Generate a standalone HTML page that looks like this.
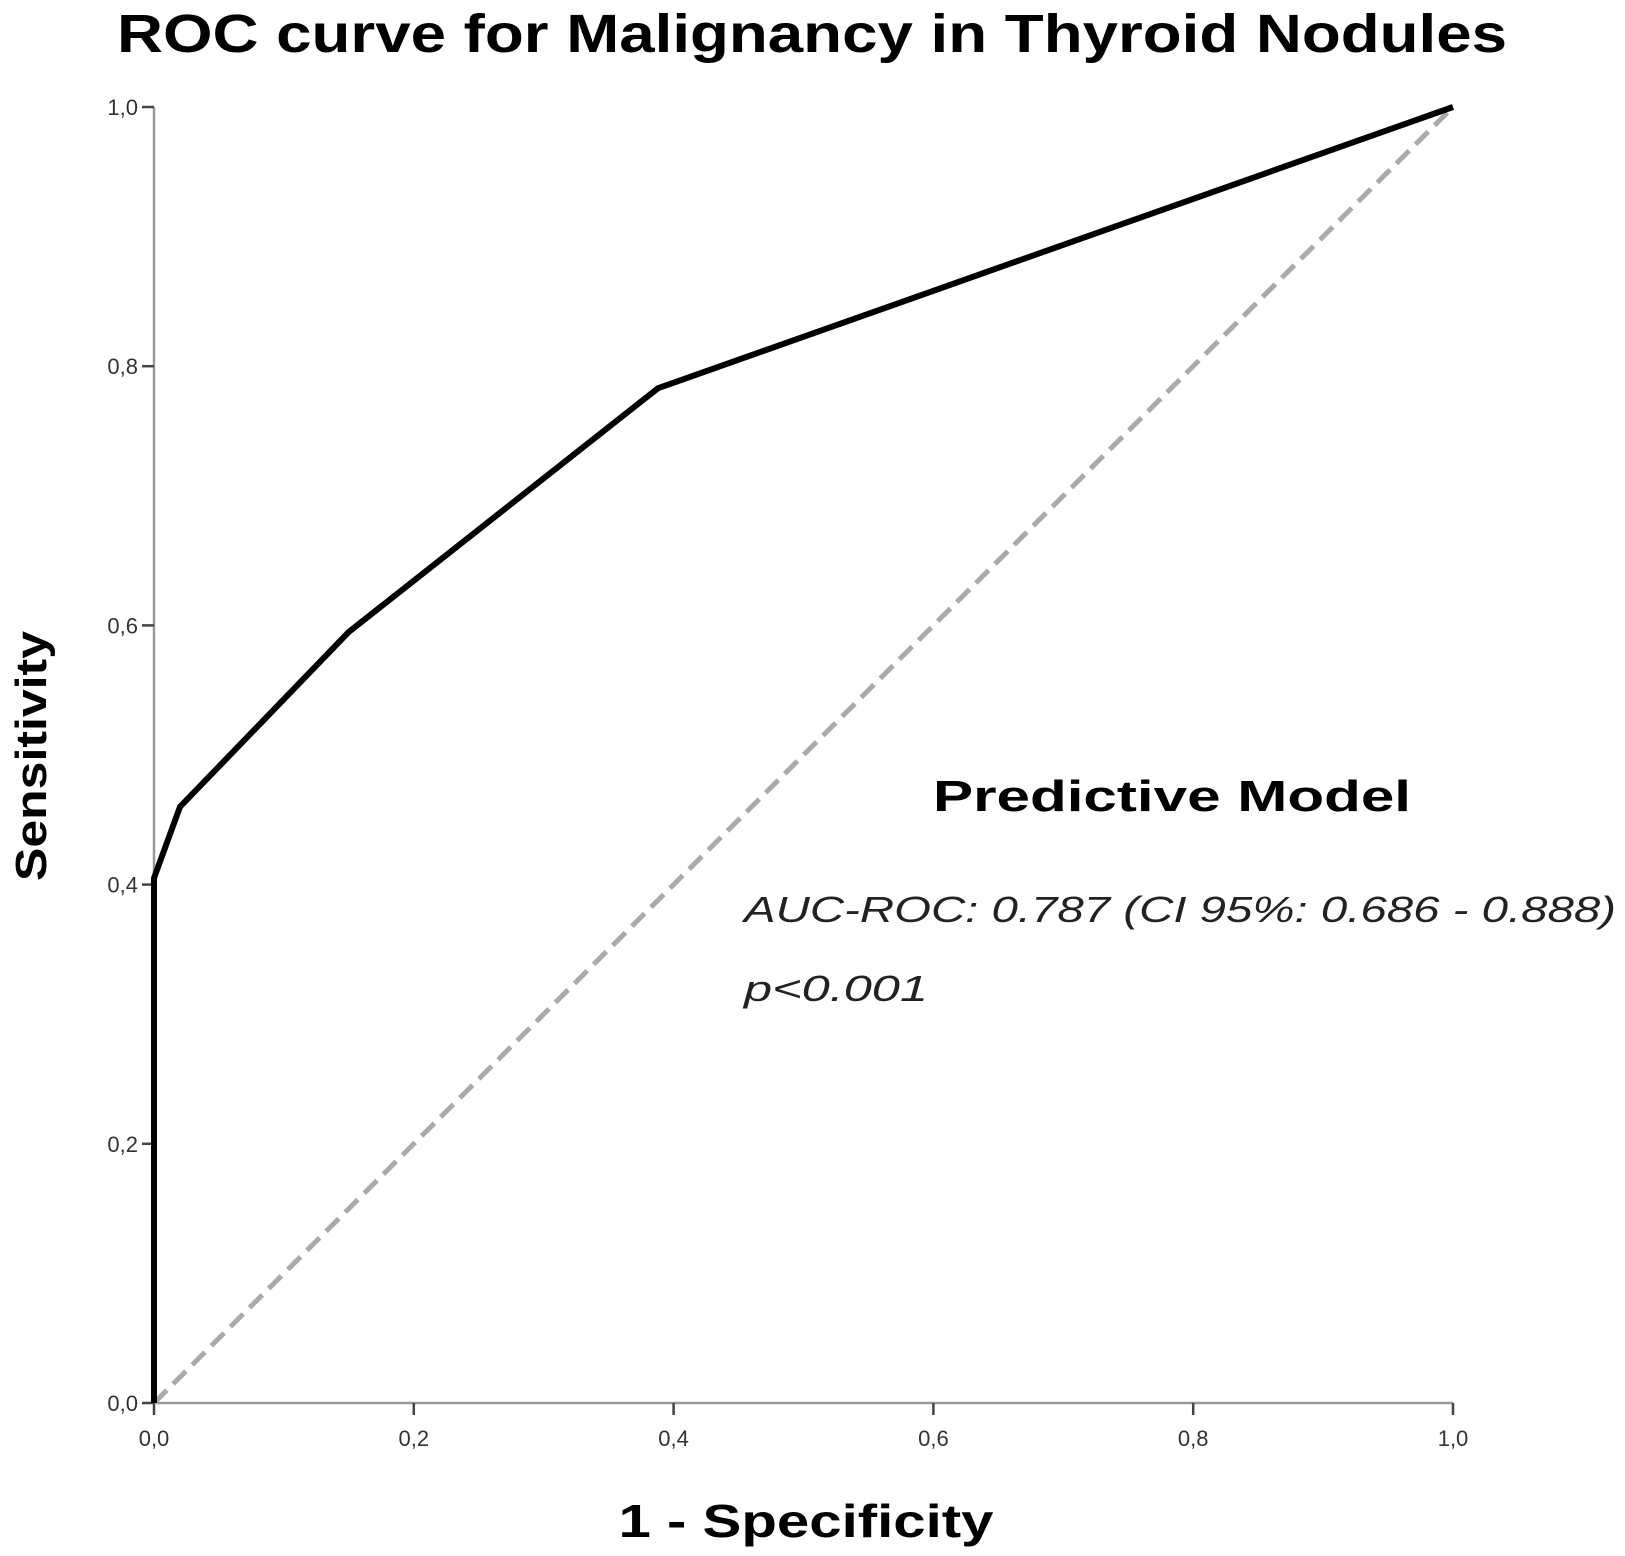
<!DOCTYPE html>
<html><head><meta charset="utf-8"><style>
html,body{margin:0;padding:0;background:#fff;}
svg{display:block;font-family:"Liberation Sans",sans-serif;}
</style></head><body>
<svg id="chart" width="1625" height="1556" viewBox="0 0 1625 1556">
<text x="812" y="52" text-anchor="middle" font-size="54" font-weight="bold" textLength="1390" lengthAdjust="spacingAndGlyphs">ROC curve for Malignancy in Thyroid Nodules</text>
<g id="axes"></g>
<g id="marks"></g>
<text x="0" y="0" transform="translate(46,756) rotate(-90)" text-anchor="middle" font-size="44" font-weight="bold" textLength="250" lengthAdjust="spacingAndGlyphs">Sensitivity</text>
<text x="806" y="1537" text-anchor="middle" font-size="46" font-weight="bold" textLength="375" lengthAdjust="spacingAndGlyphs">1 - Specificity</text>
<text x="933" y="811" font-size="44" font-weight="bold" textLength="478" lengthAdjust="spacingAndGlyphs">Predictive Model</text>
<text x="744" y="922" font-size="36" font-style="italic" fill="#222" textLength="872" lengthAdjust="spacingAndGlyphs">AUC-ROC: 0.787 (CI 95%: 0.686 - 0.888)</text>
<text x="744" y="1001" font-size="36" font-style="italic" fill="#222" textLength="184" lengthAdjust="spacingAndGlyphs">p&lt;0.001</text>
</svg>
<script>
const rocFpr = [0, 0, 0.02, 0.15, 0.388, 1.0];
const rocTpr = [0, 0.405, 0.46, 0.595, 0.783, 1.0];
const refFpr = [0, 1];
const refTpr = [0, 1];
const xTicks = [0, 0.2, 0.4, 0.6, 0.8, 1.0];
const yTicks = [0, 0.2, 0.4, 0.6, 0.8, 1.0];
const tickLabels = ["0,0","0,2","0,4","0,6","0,8","1,0"];

const X0=154, X1=1453, Y0=1403, Y1=107;
const sx = v => X0 + v*(X1-X0);
const sy = v => Y0 - v*(Y0-Y1);
const NS="http://www.w3.org/2000/svg";
const axes=document.getElementById('axes'), marks=document.getElementById('marks');
function mk(tag, attrs, parent){const e=document.createElementNS(NS,tag);for(const k in attrs)e.setAttribute(k,attrs[k]);parent.appendChild(e);return e;}

let ya=mk('line',{x1:X0,y1:Y0,x2:X0,y2:Y1,stroke:'#999','stroke-width':2.5},axes);


let xa=mk('line',{x1:X0,y1:Y0,x2:X1,y2:Y0,stroke:'#999','stroke-width':2.5},axes);



yTicks.forEach((v,i)=>{
  let t=mk('line',{x1:X0-12,y1:sy(v),x2:X0,y2:sy(v),stroke:'#444','stroke-width':2.5},axes);
  
  
  let l=mk('text',{x:X0-16,y:sy(v)+8,'text-anchor':'end','font-size':22,fill:'#333'},axes);
  l.textContent=tickLabels[i];
  
  
});
xTicks.forEach((v,i)=>{
  let t=mk('line',{x1:sx(v),y1:Y0,x2:sx(v),y2:Y0+12,stroke:'#444','stroke-width':2.5},axes);
  
  
  let l=mk('text',{x:sx(v),y:Y0+43,'text-anchor':'middle','font-size':22,fill:'#333'},axes);
  l.textContent=tickLabels[i];
  
  
});

let ref=mk('polyline',{points:refFpr.map((v,i)=>sx(v)+','+sy(refTpr[i])).join(' '),fill:'none',stroke:'#aaa','stroke-width':5,'stroke-dasharray':'18,9'},marks);


let roc=mk('polyline',{points:rocFpr.map((v,i)=>sx(v)+','+sy(rocTpr[i])).join(' '),fill:'none',stroke:'#000','stroke-width':6,'stroke-linejoin':'round'},marks);


</script>
</body></html>
